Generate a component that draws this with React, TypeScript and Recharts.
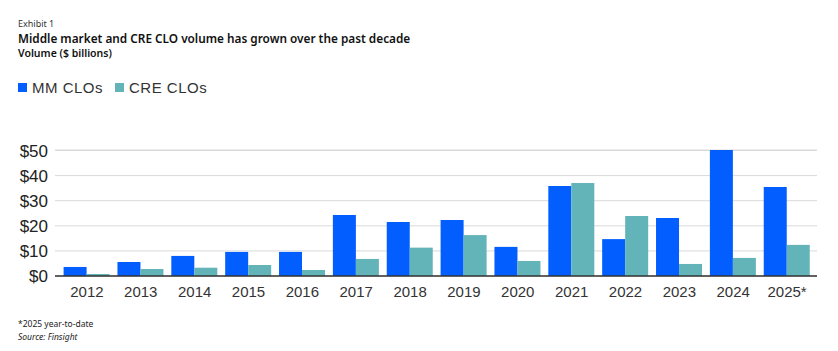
import { Bar, BarChart, CartesianGrid, XAxis, YAxis } from "recharts";

const YEARS = ["2012", "2013", "2014", "2015", "2016", "2017", "2018", "2019", "2020", "2021", "2022", "2023", "2024", "2025*"];
const MM_CLOS = [3.6, 5.6, 8.0, 9.6, 9.6, 24.3, 21.5, 22.3, 11.6, 35.9, 14.7, 23.1, 50.2, 35.5];
const CRE_CLOS = [0.8, 2.8, 3.3, 4.4, 2.4, 6.8, 11.3, 16.3, 6.0, 37.1, 23.9, 4.8, 7.2, 12.4];
const Y_TICKS = [0, 10, 20, 30, 40, 50];

const MM_COLOR = "#025eff";
const CRE_COLOR = "#62b4b9";

const data = YEARS.map((year, i) => ({ year, mm: MM_CLOS[i], cre: CRE_CLOS[i] }));

const headFont = "'Noto Sans', 'Open Sans', sans-serif";
const chartFont = "'Liberation Sans', Arial, sans-serif";

function LegendItem({ color, label }: { color: string; label: string }) {
  return (
    <span style={{ display: "inline-flex", alignItems: "center", marginRight: 12 }}>
      <span style={{ width: 9, height: 9, background: color, display: "inline-block", marginRight: 5 }} />
      <span>{label}</span>
    </span>
  );
}

export default function App() {
  return (
    <div style={{ position: "absolute", left: 0, top: 0, width: 838, height: 351, background: "#fff", color: "#111" }}>
      <div style={{ position: "absolute", left: 18, top: 17, fontFamily: headFont, fontSize: 9, color: "#333" }}>Exhibit 1</div>
      <div style={{ position: "absolute", left: 18, top: 30, fontFamily: headFont, fontSize: 11.8, fontWeight: 600 }}>
        Middle market and CRE CLO volume has grown over the past decade
      </div>
      <div style={{ position: "absolute", left: 18, top: 46, fontFamily: headFont, fontSize: 10.5, fontWeight: 600 }}>
        Volume ($ billions)
      </div>
      <div
        style={{
          position: "absolute",
          left: 18,
          top: 79,
          fontFamily: chartFont,
          fontSize: 15,
          letterSpacing: 0.5,
          color: "#333",
          display: "flex",
        }}
      >
        <LegendItem color={MM_COLOR} label="MM CLOs" />
        <LegendItem color={CRE_COLOR} label="CRE CLOs" />
      </div>
      <div style={{ position: "absolute", left: 0, top: 0 }}>
        <BarChart
          width={838}
          height={351}
          data={data}
          margin={{ top: 150, right: 21, bottom: 45, left: 0 }}
          barCategoryGap={3.6}
          barGap={0}
        >
          <CartesianGrid vertical={false} stroke="#d9d9d9" />
          <XAxis
            dataKey="year"
            height={30}
            padding={{ left: 5, right: 3 }}
            tick={{ fontSize: 15, fill: "#333", fontFamily: chartFont }}
            tickLine={false}
            tickSize={0}
            tickMargin={10}
            axisLine={{ stroke: "#333", strokeWidth: 1.5 }}
            interval={0}
          />
          <YAxis
            width={55}
            domain={[0, 50]}
            ticks={Y_TICKS}
            tickFormatter={(v: number) => `$${v}`}
            tick={{ fontSize: 17, fill: "#222", fontFamily: chartFont }}
            tickLine={false}
            tickSize={0}
            tickMargin={7}
            axisLine={false}
          />
          <Bar dataKey="mm" fill={MM_COLOR} isAnimationActive={false} />
          <Bar dataKey="cre" fill={CRE_COLOR} isAnimationActive={false} />
        </BarChart>
      </div>
      <div style={{ position: "absolute", left: 18, top: 318, fontFamily: headFont, fontSize: 8.5, color: "#222" }}>
        *2025 year-to-date
      </div>
      <div style={{ position: "absolute", left: 18, top: 331, fontFamily: headFont, fontSize: 8.5, color: "#222", fontStyle: "italic" }}>
        Source: Finsight
      </div>
    </div>
  );
}
